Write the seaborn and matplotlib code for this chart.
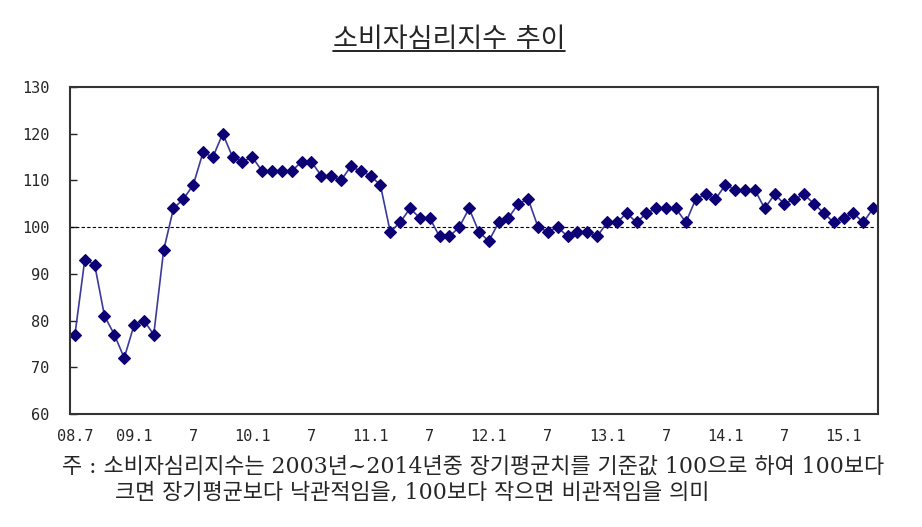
import numpy as np
import pandas as pd
import matplotlib.pyplot as plt
import seaborn as sns
from matplotlib.lines import Line2D

# 소비자심리지수 (월별, 2008.7 ~ 2015.4)
csi_2008 = [77, 93, 92, 81, 77, 72]
csi_2009 = [79, 80, 77, 95, 104, 106, 109, 116, 115, 120, 115, 114]
csi_2010 = [115, 112, 112, 112, 112, 114, 114, 111, 111, 110, 113, 112]
csi_2011 = [111, 109, 99, 101, 104, 102, 102, 98, 98, 100, 104, 99]
csi_2012 = [97, 101, 102, 105, 106, 100, 99, 100, 98, 99, 99, 98]
csi_2013 = [101, 101, 103, 101, 103, 104, 104, 104, 101, 106, 107, 106]
csi_2014 = [109, 108, 108, 108, 104, 107, 105, 106, 107, 105, 103, 101]
csi_2015 = [102, 103, 101, 104]

tick_labels = ["08.7", "09.1", "7", "10.1", "7", "11.1", "7",
               "12.1", "7", "13.1", "7", "14.1", "7", "15.1"]
base_value = 100

title_text = "소비자심리지수 추이"
note_line1 = "주 : 소비자심리지수는 2003년~2014년중 장기평균치를 기준값 100으로 하여 100보다"
note_line2 = "크면 장기평균보다 낙관적임을, 100보다 작으면 비관적임을 의미"

csi = csi_2008 + csi_2009 + csi_2010 + csi_2011 + csi_2012 + csi_2013 + csi_2014 + csi_2015
df = pd.DataFrame({"idx": np.arange(len(csi)), "csi": csi})

sns.set_style("white")
plt.rcParams['font.family'] = ['Noto Sans CJK KR', 'DejaVu Sans']
plt.rcParams['axes.unicode_minus'] = False

fig, ax = plt.subplots(figsize=(9.22, 5.27), dpi=100)
fig.subplots_adjust(left=70 / 922, right=878 / 922, top=1 - 87 / 527, bottom=1 - 414 / 527)

# 지수 추이선
sns.lineplot(data=df, x="idx", y="csi", ax=ax, color="#3a3a98", lw=1.2,
             marker="D", markersize=6.5, markerfacecolor="#0d0075",
             markeredgecolor="#0d0075", markeredgewidth=0.8)

# 기준값 100 점선
ax.hlines(base_value, -0.5, len(csi) - 0.8, colors="black",
          linestyles=(0, (3, 2)), lw=0.8, zorder=1)

ax.set_xlim(-0.5, len(csi) - 0.5)
ax.set_ylim(60, 130)
ax.set_yticks(range(60, 131, 10))
ax.set_xticks(range(0, len(csi), 6))
ax.set_xticklabels(tick_labels)
ax.set_xticks(np.arange(0.5, len(csi) - 1, 1), minor=True)
ax.set_xlabel("")
ax.set_ylabel("")

for lab in ax.get_xticklabels() + ax.get_yticklabels():
    lab.set_family("DejaVu Sans Mono")
    lab.set_fontsize(11)

ax.tick_params(axis="x", which="major", length=0, pad=11)
ax.tick_params(axis="x", which="minor", direction="in", length=5, width=1, color="#222222")
ax.tick_params(axis="y", direction="in", length=5, width=1, pad=15, color="#222222", left=True)

for sp in ax.spines.values():
    sp.set_color("#333333")
    sp.set_linewidth(1.5)

# 제목 (밑줄)
title = fig.text(449 / 922, 1 - 47 / 527, title_text, ha="center", va="baseline",
                 fontsize=19.5, family=['DejaVu Sans', 'Noto Sans CJK KR'])
fig.canvas.draw()
bb = title.get_window_extent()
uy = 1 - 51 / 527
fig.add_artist(Line2D([bb.x0 / 922, bb.x1 / 922], [uy, uy], color="black", lw=1.2,
                      transform=fig.transFigure))

# 주석
note_family = ['DejaVu Serif', 'Noto Sans CJK KR']
fig.text(62 / 922, 1 - 467 / 527, note_line1, ha="left", va="center", fontsize=15.8,
         family=note_family)
fig.text(115 / 922, 1 - 492 / 527, note_line2, ha="left", va="center", fontsize=15.8,
         family=note_family)

fig.savefig("out.png", dpi=100)
